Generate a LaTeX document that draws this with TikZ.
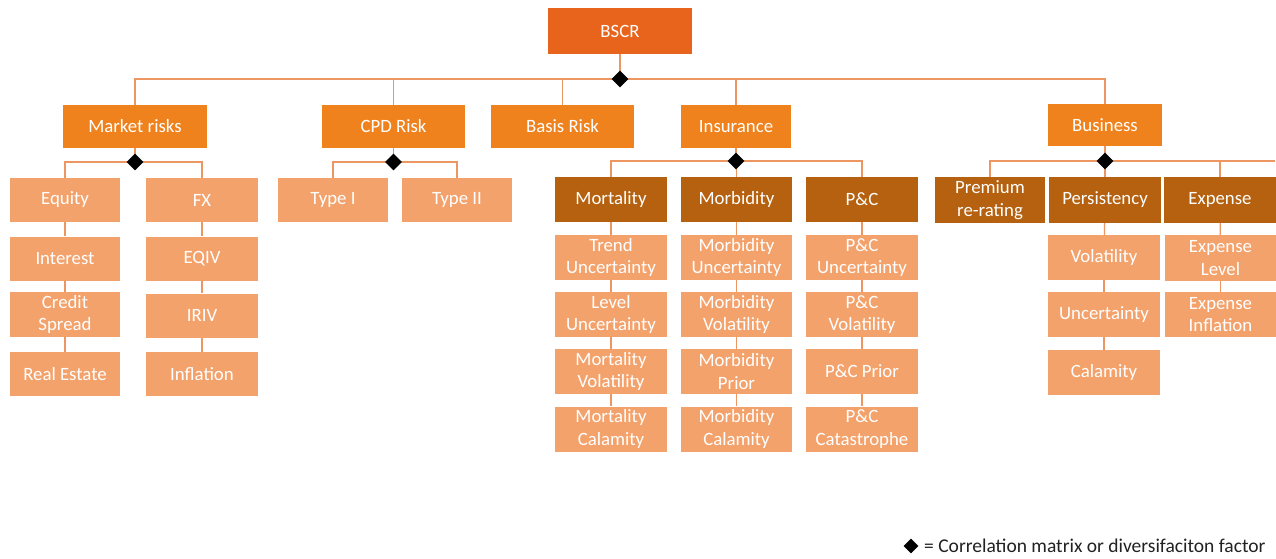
\documentclass[tikz,border=0pt]{standalone}
\usepackage{fontspec}
\setmainfont{Carlito}
\usetikzlibrary{shapes.geometric}
\definecolor{cTop}{HTML}{E8631C}
\definecolor{cLone}{HTML}{EF821C}
\definecolor{cDk}{HTML}{B5610F}
\definecolor{cLt}{HTML}{F4A26C}
\definecolor{cLn}{HTML}{EC9662}
\definecolor{cTxt}{HTML}{222222}
\newcommand\boxfont{\fontsize{18.8}{22.5}\selectfont}
\tikzset{
  box/.style={rectangle, text=white, align=center, inner sep=1pt, font=\boxfont},
  topbox/.style={box, fill=cTop, minimum width=144pt, minimum height=46pt},
  lone/.style={box, fill=cLone, minimum height=43pt},
  dk/.style={box, fill=cDk, minimum width=112pt, minimum height=45pt},
  lt/.style={box, fill=cLt, minimum width=111pt, minimum height=45pt},
  ln/.style={draw=cLn, line width=1.3pt},
  dia/.style={diamond, fill=black, inner sep=0pt, minimum size=17pt},
}
\begin{document}
\begin{tikzpicture}[x=1pt,y=-1pt]
\useasboundingbox[fill=white] (0,0) rectangle (1276,558);
% top
\node[topbox] (bscr) at (620,31) {BSCR};
% level 1
\node[lone, minimum width=144pt] (mr) at (135,126.5) {Market risks};
\node[lone, minimum width=143pt] (cpd) at (393.5,126.5) {CPD Risk};
\node[lone, minimum width=143pt] (basis) at (562.5,126.5) {Basis Risk};
\node[lone, minimum width=110pt] (ins) at (736,126.5) {Insurance};
\node[lone, minimum width=114pt, minimum height=42pt] (bus) at (1105,125) {Business};
% market
\node[lt, minimum width=110pt, minimum height=44pt] (eq) at (65,200) {Equity};
\node[lt, minimum width=110pt, minimum height=44pt] (int) at (65,258.5) {Interest};
\node[lt, minimum width=110pt] (cs) at (65,314.5) {Credit\\Spread};
\node[lt, minimum width=110pt, minimum height=44pt] (re) at (65,374) {Real Estate};
\node[lt, minimum width=112pt, minimum height=44pt] (fx) at (202,200) {FX};
\node[lt, minimum width=112pt, minimum height=44pt] (eqiv) at (202,258.5) {EQIV};
\node[lt, minimum width=112pt, minimum height=44pt] (iriv) at (202,315.5) {IRIV};
\node[lt, minimum width=112pt, minimum height=44pt] (infl) at (202,374) {Inflation};
% CPD
\node[lt, minimum width=110pt, minimum height=44pt] (t1) at (333,200) {Type I};
\node[lt, minimum width=110pt, minimum height=44pt] (t2) at (457,200) {Type II};
% insurance
\node[dk] (mort) at (611,199.5) {Mortality};
\node[dk, minimum width=111pt] (morb) at (736.5,199.5) {Morbidity};
\node[dk] (pc) at (862,199.5) {P\&C};
\node[lt, minimum width=112pt] (m1) at (611,257.5) {Trend\\Uncertainty};
\node[lt, minimum width=112pt] (m2) at (611,314.5) {Level\\Uncertainty};
\node[lt, minimum width=112pt] (m3) at (611,371.5) {Mortality\\Volatility};
\node[lt, minimum width=112pt] (m4) at (611,429) {Mortality\\Calamity};
\node[lt] (b1) at (736.5,257.5) {Morbidity\\Uncertainty};
\node[lt] (b2) at (736.5,314.5) {Morbidity\\Volatility};
\node[lt] (b3) at (736.5,371.5) {Morbidity\\Prior};
\node[lt] (b4) at (736.5,429) {Morbidity\\Calamity};
\node[lt, minimum width=112pt] (p1) at (862,257.5) {P\&C\\Uncertainty};
\node[lt, minimum width=112pt] (p2) at (862,314.5) {P\&C\\Volatility};
\node[lt, minimum width=112pt] (p3) at (862,371.5) {P\&C Prior};
\node[lt, minimum width=112pt] (p4) at (862,429) {P\&C\\Catastrophe};
% business
\node[dk, minimum width=110pt, minimum height=46pt] (prem) at (990,200) {Premium\\re-rating};
\node[dk, minimum height=46pt] (pers) at (1105,200) {Persistency};
\node[dk, minimum width=113pt, minimum height=46pt] (exp) at (1220,200) {Expense};
\node[lt, minimum width=112pt] (v1) at (1104,257.5) {Volatility};
\node[lt, minimum width=112pt] (v2) at (1104,314.5) {Uncertainty};
\node[lt, minimum width=112pt] (v3) at (1104,372.5) {Calamity};
\node[lt, minimum height=46pt] (e1) at (1220.5,258) {Expense\\Level};
\node[lt] (e2) at (1220.5,314.5) {Expense\\Inflation};
% diamond positions
\coordinate (d0c) at (620,79);
\coordinate (dmc) at (135,162);
\coordinate (dcc) at (393.5,162);
\coordinate (dic) at (736,161);
\coordinate (dbc) at (1105,161);
\coordinate (bend) at (1275,161);
% connectors
\draw[ln] (bscr) -- (d0c);
\draw[ln] (mr.north) |- (d0c);
\draw[ln] (bus.north) |- (d0c);
\draw[ln] (cpd.north) -- (cpd.north |- d0c);
\draw[ln] (basis.north) -- (basis.north |- d0c);
\draw[ln] (ins.north) -- (ins.north |- d0c);
\draw[ln] (mr) -- (dmc);
\draw[ln] (eq.north) |- (dmc);
\draw[ln] (fx.north) |- (dmc);
\draw[ln] (eq) -- (int); \draw[ln] (int) -- (cs); \draw[ln] (cs) -- (re);
\draw[ln] (fx) -- (eqiv); \draw[ln] (eqiv) -- (iriv); \draw[ln] (iriv) -- (infl);
\draw[ln] (cpd) -- (dcc);
\draw[ln] (t1.north) |- (dcc);
\draw[ln] (t2.north) |- (dcc);
\draw[ln] (ins) -- (dic);
\draw[ln] (mort.north) |- (dic);
\draw[ln] (pc.north) |- (dic);
\draw[ln] (morb.north) -- (morb.north |- dic);
\draw[ln] (mort) -- (m1); \draw[ln] (m1) -- (m2); \draw[ln] (m2) -- (m3); \draw[ln] (m3) -- (m4);
\draw[ln] (morb) -- (b1); \draw[ln] (b1) -- (b2); \draw[ln] (b2) -- (b3); \draw[ln] (b3) -- (b4);
\draw[ln] (pc) -- (p1); \draw[ln] (p1) -- (p2); \draw[ln] (p2) -- (p3); \draw[ln] (p3) -- (p4);
\draw[ln] (bus) -- (dbc);
\draw[ln] (prem.north) |- (dbc);
\draw[ln] (dbc) -- (bend);
\draw[ln] (pers.north) -- (pers.north |- dbc);
\draw[ln] (exp.north) -- (exp.north |- dbc);
\draw[ln] (pers) -- (v1); \draw[ln] (v1) -- (v2); \draw[ln] (v2) -- (v3);
\draw[ln] (exp) -- (e1); \draw[ln] (e1) -- (e2);
% diamonds
\node[dia] (d0) at (d0c) {};
\node[dia] (dm) at (dmc) {};
\node[dia] (dc) at (dcc) {};
\node[dia] (di) at (dic) {};
\node[dia] (db) at (dbc) {};
% legend
\node[dia, minimum size=15pt] (ld) at (911,546) {};
\node[anchor=west, text=cTxt, font=\fontsize{19.5}{22}\selectfont, inner sep=0pt] (lt) at (924,546) {= Correlation matrix or diversifaciton factor};
\end{tikzpicture}
\end{document}
